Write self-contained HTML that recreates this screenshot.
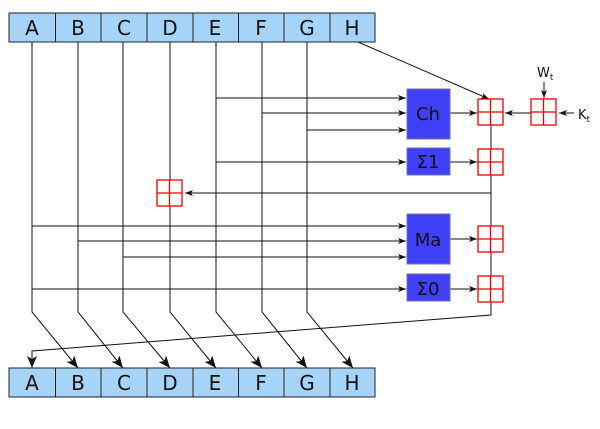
<!DOCTYPE html>
<html><head><style>body{margin:0;background:#fff}</style></head><body>
<svg width="600" height="424" viewBox="0 0 600 424" xmlns="http://www.w3.org/2000/svg" font-family="DejaVu Sans, Liberation Sans, sans-serif">
<defs>
<marker id="a" markerWidth="8" markerHeight="6" refX="8" refY="3" orient="auto" markerUnits="userSpaceOnUse"><path d="M0,0 L8,3 L0,6 L2,3z" fill="#111"/></marker>
<marker id="b" markerWidth="12" markerHeight="10" refX="12" refY="5" orient="auto" markerUnits="userSpaceOnUse"><path d="M0,0 L12,5 L0,10 L3,5z" fill="#111"/></marker>
<g id="add"><rect x="0" y="0" width="25" height="26" fill="#fff" stroke="#e00" stroke-width="1.3"/><path d="M12.5,0V26M0,13H25" stroke="#e00" stroke-width="1.3"/></g>
</defs>
<g stroke="#111" stroke-width="1" fill="none">
<path d="M32,42V312L78,368" marker-end="url(#b)"/>
<path d="M78,42V312L123,368" marker-end="url(#b)"/>
<path d="M123,42V312L170,368" marker-end="url(#b)"/>
<path d="M170,42V312L216,368" marker-end="url(#b)"/>
<path d="M216,42V312L262,368" marker-end="url(#b)"/>
<path d="M262,42V312L307,368" marker-end="url(#b)"/>
<path d="M307,42V312L353,368" marker-end="url(#b)"/>
<path d="M491,125V315L32,351V368" marker-end="url(#b)"/>
<path d="M358,42L489,99" marker-end="url(#a)"/>
<path d="M216,98H406" marker-end="url(#a)"/>
<path d="M262,113H406" marker-end="url(#a)"/>
<path d="M307,130H406" marker-end="url(#a)"/>
<path d="M216,162H406" marker-end="url(#a)"/>
<path d="M491,193H185" marker-end="url(#a)"/>
<path d="M32,226H406" marker-end="url(#a)"/>
<path d="M78,241H406" marker-end="url(#a)"/>
<path d="M123,257H406" marker-end="url(#a)"/>
<path d="M32,289H406" marker-end="url(#a)"/>
<path d="M450,113H477" marker-end="url(#a)"/>
<path d="M450,162H477" marker-end="url(#a)"/>
<path d="M450,239H477" marker-end="url(#a)"/>
<path d="M450,289H477" marker-end="url(#a)"/>
<path d="M531,113H505" marker-end="url(#a)"/>
<path d="M544,82V98" marker-end="url(#a)"/>
<path d="M574,113H559" marker-end="url(#a)"/>
</g>
<use href="#add" x="478" y="99"/><use href="#add" x="478" y="149"/><use href="#add" x="478" y="226"/><use href="#add" x="478" y="276"/>
<use href="#add" x="531" y="99"/><use href="#add" x="157" y="180"/>
<g fill="#4040f8" stroke="#7070a0" stroke-width="1">
<rect x="407" y="89" width="43" height="50"/><rect x="407" y="148" width="43" height="27"/>
<rect x="407" y="214" width="43" height="50"/><rect x="407" y="274" width="43" height="27"/>
</g>
<g font-size="18" text-anchor="middle" fill="#111">
<text x="428" y="120">Ch</text><text x="428" y="168">Σ1</text><text x="428" y="246">Ma</text><text x="428" y="295">Σ0</text>
</g>
<text x="537" y="77" font-size="13" fill="#111">W<tspan font-size="9" dy="3">t</tspan></text>
<text x="578" y="119" font-size="13" fill="#111">K<tspan font-size="9" dy="3">t</tspan></text>
<g font-size="20" text-anchor="middle" fill="#111">
<g id="reg">
<rect x="9" y="13" width="366" height="29" fill="#a6d4f8" stroke="#222"/>
<path d="M55.5,13v29M101,13v29M147,13v29M193,13v29M238.5,13v29M284,13v29M330,13v29" stroke="#222"/>
<text x="32" y="35">A</text><text x="78" y="35">B</text><text x="124" y="35">C</text><text x="170" y="35">D</text><text x="215" y="35">E</text><text x="261" y="35">F</text><text x="307" y="35">G</text><text x="352" y="35">H</text>
</g>
<use href="#reg" y="355"/>
</g>
</svg>
</body></html>
